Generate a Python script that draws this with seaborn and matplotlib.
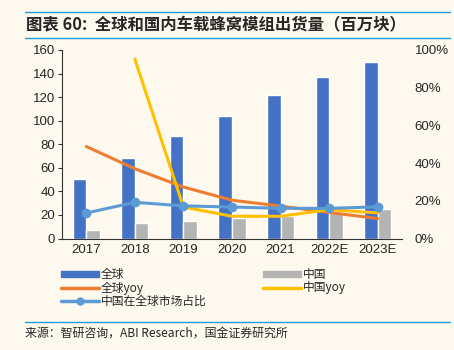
import matplotlib
matplotlib.use("Agg")
import matplotlib.pyplot as plt
import seaborn as sns
import pandas as pd
import numpy as np
from matplotlib.lines import Line2D
from matplotlib.patches import Patch

years = ["2017", "2018", "2019", "2020", "2021", "2022E", "2023E"]
global_ship = [50.8, 68.6, 86.6, 104.0, 121.6, 136.8, 150.0]
china_ship = [7.0, 13.2, 15.2, 17.5, 19.5, 22.0, 25.4]
global_yoy = [48.8, 37.0, 27.3, 20.3, 17.2, 13.8, 10.6]
china_yoy = [None, 95.2, 16.7, 11.8, 11.8, 15.3, 13.6]
china_share = [13.5, 19.2, 17.3, 16.7, 16.0, 16.0, 16.8]

BG = "#FEF9EE"
sns.set_theme(style="white")
plt.rcParams["font.family"] = ["Liberation Sans", "Noto Sans CJK SC", "DejaVu Sans"]
plt.rcParams["axes.facecolor"] = BG
plt.rcParams["figure.facecolor"] = BG

bars = pd.DataFrame({
    "year": years * 2,
    "value": global_ship + china_ship,
    "series": ["全球"] * 7 + ["中国"] * 7,
})

fig = plt.figure(figsize=(4.54, 3.5), dpi=100)
ax = fig.add_axes([62 / 454, 1 - 238.5 / 350, (402 - 62) / 454, (238.5 - 50) / 350])

sns.barplot(data=bars, x="year", y="value", hue="series", palette=["#4472C4", "#B4B4B4"],
            width=0.56, gap=0, ax=ax, legend=False, saturation=1)
ax.set_ylim(0, 160)
ax.set_yticks(range(0, 161, 20))
ax.set_xlabel("")
ax.set_ylabel("")
ax.tick_params(axis="y", length=3, width=0.8, color="#333333", labelsize=9.5, pad=2, left=True)
ax.tick_params(axis="x", length=0, labelsize=9.5, pad=4)
for s in ["top", "right"]:
    ax.spines[s].set_visible(False)
ax.spines["left"].set_color("#333333")
ax.spines["bottom"].set_color("#333333")
ax.spines["left"].set_linewidth(0.8)
ax.spines["bottom"].set_linewidth(0.8)
ax.set_xlim(-0.5, 6.5)

ax2 = ax.twinx()
x = np.arange(len(years))
yoy_c = pd.Series(china_yoy, dtype=float)
sns.lineplot(x=x, y=global_yoy, color="#ED7D31", linewidth=2.2, ax=ax2)
sns.lineplot(x=x[1:], y=yoy_c[1:].values, color="#FFC000", linewidth=2.2, ax=ax2)
sns.lineplot(x=x, y=china_share, color="#5B9BD5", linewidth=2.2, marker="o",
             markersize=7, markeredgewidth=0, ax=ax2)
ax2.set_ylim(0, 100)
ax2.set_yticks(range(0, 101, 20))
ax2.set_yticklabels([f"{v}%" for v in range(0, 101, 20)])
ax2.tick_params(axis="y", length=0, labelsize=9.5, pad=9)
for s in ax2.spines.values():
    s.set_visible(False)
ax2.set_xlim(-0.5, 6.5)

handles = [
    Patch(color="#4472C4"),
    Line2D([], [], color="#ED7D31", linewidth=2.5),
    Line2D([], [], color="#5B9BD5", linewidth=2.5, marker="o", markersize=5),
    Patch(color="#B4B4B4"),
    Line2D([], [], color="#FFC000", linewidth=2.5),
]
labels = ["全球", "全球yoy", "中国在全球市场占比", "中国", "中国yoy"]
leg = fig.legend(handles, labels, ncol=2, loc="upper left", bbox_to_anchor=(52 / 454, 1 - 259 / 350),
                 frameon=False, handlelength=3.2, handleheight=0.35,
                 handletextpad=0.15, labelspacing=0.0, columnspacing=4.8, borderpad=0.3,
                 prop={"family": ["Noto Sans CJK SC", "DejaVu Sans"], "size": 8.5})

fig.add_artist(Line2D([25 / 454, 450 / 454], [1 - 12 / 350] * 2, color="#1F9BDE", linewidth=1))
fig.add_artist(Line2D([25 / 454, 450 / 454], [1 - 38 / 350] * 2, color="#1F9BDE", linewidth=1))
fig.text(26 / 454, 1 - 25 / 350, "图表 60:  全球和国内车载蜂窝模组出货量（百万块）",
         fontsize=11.8, fontweight="bold", style="italic", va="center",
         family=["Noto Sans CJK SC", "DejaVu Sans"])
fig.add_artist(Line2D([25 / 454, 450 / 454], [1 - 322 / 350] * 2, color="#1F9BDE", linewidth=1))
fig.text(25 / 454, 1 - 333 / 350, "来源：智研咨询，ABI Research，国金证券研究所",
         fontsize=8.6, va="center", family=["Noto Sans CJK SC", "DejaVu Sans"])

fig.savefig("out.png", dpi=100, facecolor=BG)
